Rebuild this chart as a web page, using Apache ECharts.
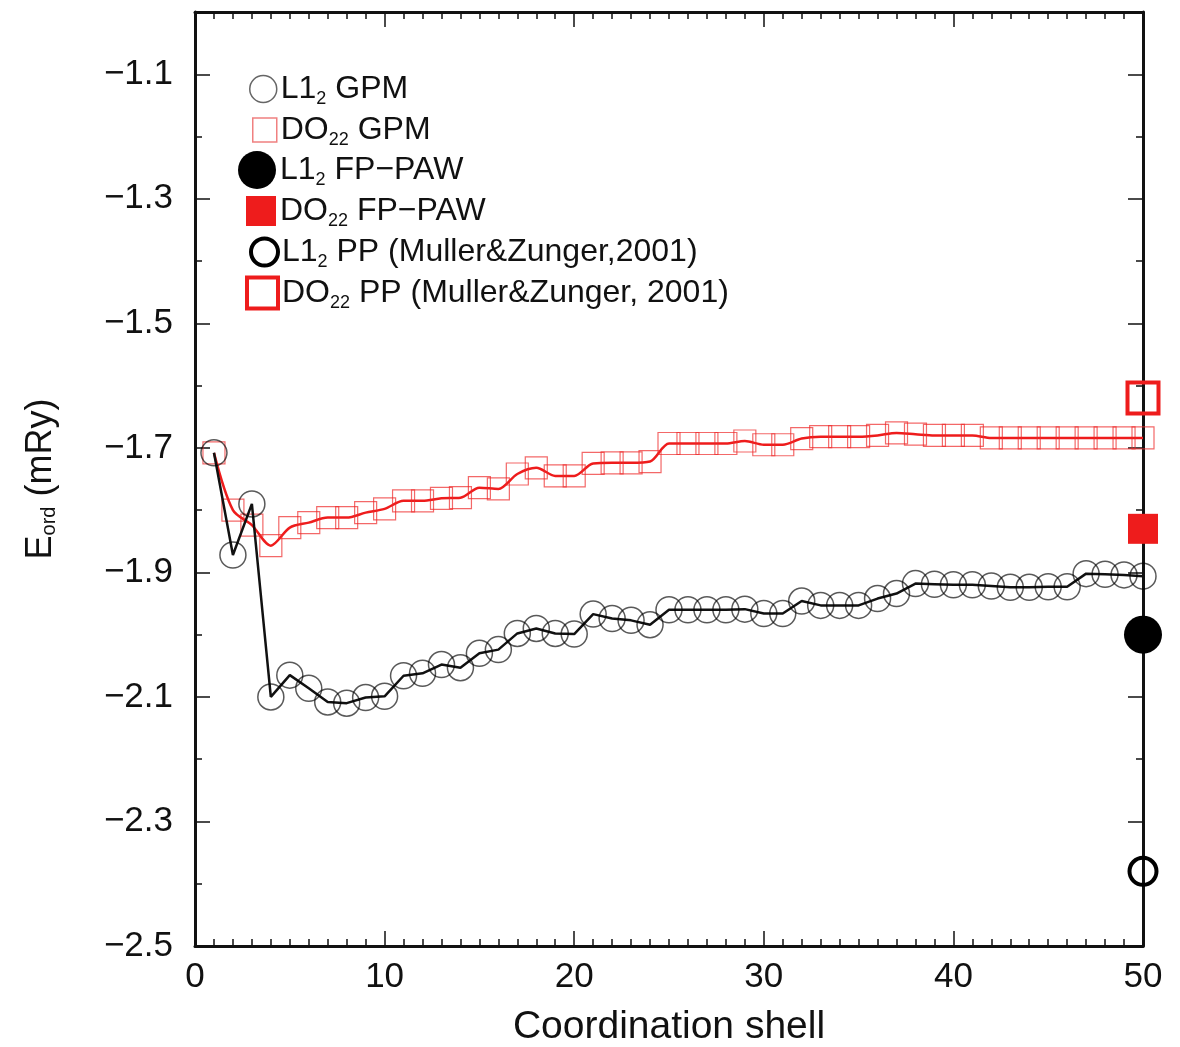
<!DOCTYPE html>
<html>
<head>
<meta charset="utf-8">
<title>Ordering energy vs coordination shell</title>
<script src="https://cdn.jsdelivr.net/npm/echarts@6/dist/echarts.min.js"></script>
<style>
  html, body { margin: 0; padding: 0; background: #fff; }
  #chart { width: 1180px; height: 1047px; }
</style>
</head>
<body>
<div id="chart"></div>
<script>
// Coordination shell index (x)
const shells = [1, 2, 3, 4, 5, 6, 7, 8, 9, 10,
  11, 12, 13, 14, 15, 16, 17, 18, 19, 20,
  21, 22, 23, 24, 25, 26, 27, 28, 29, 30,
  31, 32, 33, 34, 35, 36, 37, 38, 39, 40,
  41, 42, 43, 44, 45, 46, 47, 48, 49, 50];

// L1_2 ordering energy, GPM (mRy)
const l12Gpm = [
  -1.708, -1.872, -1.790, -2.100, -2.065, -2.086, -2.108, -2.110, -2.101, -2.099,
  -2.066, -2.062, -2.048, -2.053, -2.030, -2.024, -1.998, -1.990, -1.998, -1.999,
  -1.967, -1.974, -1.977, -1.984, -1.960, -1.960, -1.960, -1.960, -1.959, -1.966,
  -1.966, -1.946, -1.953, -1.953, -1.953, -1.942, -1.934, -1.918, -1.919, -1.920,
  -1.920, -1.922, -1.924, -1.924, -1.923, -1.923, -1.902, -1.903, -1.904, -1.906];

// DO_22 ordering energy, GPM (mRy)
const do22Gpm = [
  -1.708, -1.800, -1.824, -1.857, -1.828, -1.820, -1.812, -1.812, -1.804, -1.798,
  -1.785, -1.785, -1.781, -1.780, -1.764, -1.766, -1.742, -1.732, -1.745, -1.745,
  -1.725, -1.724, -1.724, -1.722, -1.693, -1.693, -1.693, -1.693, -1.689, -1.695,
  -1.695, -1.685, -1.682, -1.682, -1.682, -1.680, -1.676, -1.678, -1.680, -1.680,
  -1.680, -1.684, -1.684, -1.684, -1.684, -1.684, -1.684, -1.684, -1.684, -1.684];

// Reference values, plotted at the last shell
const refShell = 50;
const l12FpPaw = -2.00;
const do22FpPaw = -1.83;
const l12Pp = -2.38;
const do22Pp = -1.62;

// Axis ranges and ticks
const xMin = 0, xMax = 50, xStep = 10;
const yMin = -2.5, yMax = -1.0, yStep = 0.2, yMinorStep = 0.1;

// Series names ("_n" marks a subscript)
const names = [
  'L1_2 GPM',
  'DO_22 GPM',
  'L1_2 FP\u2212PAW',
  'DO_22 FP\u2212PAW',
  'L1_2 PP (Muller&Zunger,2001)',
  'DO_22 PP (Muller&Zunger, 2001)'
];

const FONT = '"Liberation Sans", Arial, Helvetica, sans-serif';
const INK = '#111111';
const RED = '#ee1c1c';

const subFmt = s => s.replace(/_(\d+)/g, '{s|$1}');

const zip = (xs, ys) => xs.map((x, i) => [x, ys[i]]);

function yAxisDef(pos, major) {
  return {
    type: 'value',
    position: pos,
    min: yMin,
    max: yMax,
    interval: major ? yStep : yMinorStep,
    name: (major && pos === 'left') ? 'E{s|ord} (mRy)' : '',
    nameLocation: 'middle',
    nameGap: 136,
    nameTextStyle: {
      fontFamily: FONT, fontSize: 36, color: INK,
      rich: { s: { fontFamily: FONT, fontSize: 20, color: INK, verticalAlign: 'bottom', lineHeight: 16 } }
    },
    axisLine: { show: major, onZero: false, lineStyle: { color: INK, width: 3 } },
    axisTick: { show: true, inside: true, length: major ? 15 : 7, lineStyle: { color: INK, width: 1.5 } },
    axisLabel: {
      show: major && pos === 'left',
      margin: 22,
      fontFamily: FONT, fontSize: 35, color: INK,
      formatter: v => (v > yMax - 0.05) ? '' : '\u2212' + Math.abs(v).toFixed(1)
    },
    splitLine: { show: false }
  };
}

function xAxisDef(pos) {
  const bottom = pos === 'bottom';
  return {
    type: 'value',
    position: pos,
    min: xMin,
    max: xMax,
    interval: xStep,
    name: bottom ? 'Coordination shell' : '',
    nameLocation: 'middle',
    nameGap: 62,
    nameTextStyle: { fontFamily: FONT, fontSize: 39, color: INK },
    axisLine: { show: true, onZero: false, lineStyle: { color: INK, width: 3 } },
    axisTick: { show: true, inside: true, length: 15, lineStyle: { color: INK, width: 1.5 } },
    minorTick: { show: true, splitNumber: 10, length: 7, lineStyle: { color: INK, width: 1.5 } },
    axisLabel: { show: bottom, margin: 14, fontFamily: FONT, fontSize: 35, color: INK },
    splitLine: { show: false },
    minorSplitLine: { show: false }
  };
}

// One legend block per row so each key keeps its own marker size
const legendRows = [
  { name: names[0], icon: 'circle', w: 27, h: 27, style: { color: 'rgba(0,0,0,0)', borderColor: '#666', borderWidth: 1.5 } },
  { name: names[1], icon: 'rect', w: 24, h: 24, style: { color: 'rgba(0,0,0,0)', borderColor: '#f08080', borderWidth: 1.5 } },
  { name: names[2], icon: 'circle', w: 38, h: 38, style: { color: '#000', borderWidth: 0 } },
  { name: names[3], icon: 'rect', w: 30, h: 30, style: { color: RED, borderWidth: 0 } },
  { name: names[4], icon: 'circle', w: 27, h: 27, style: { color: 'rgba(0,0,0,0)', borderColor: '#000', borderWidth: 4 } },
  { name: names[5], icon: 'rect', w: 31, h: 31, style: { color: 'rgba(0,0,0,0)', borderColor: RED, borderWidth: 4 } }
];
const rowCenters = [89, 130, 170, 211, 252, 293];
const textLeft = 280;
const rowLineHeight = 38;

const legends = legendRows.map((r, i) => ({
  data: [{ name: r.name, icon: r.icon, itemStyle: r.style }],
  left: textLeft - 4 - r.w,
  top: rowCenters[i] - rowLineHeight / 2,
  padding: 0,
  itemWidth: r.w,
  itemHeight: r.h,
  itemGap: 0,
  selectedMode: false,
  formatter: n => subFmt(n),
  textStyle: {
    fontFamily: FONT, fontSize: 32, color: INK, lineHeight: rowLineHeight, padding: [0, 0, 0, -1],
    rich: { s: { fontFamily: FONT, fontSize: 18, color: INK, verticalAlign: 'bottom', lineHeight: 12 } }
  }
}));

const chart = echarts.init(document.getElementById('chart'), null, { renderer: 'canvas' });

chart.setOption({
  backgroundColor: '#ffffff',
  animation: false,
  grid: { left: 195, right: 37, top: 12, bottom: 101, containLabel: false, outerBoundsMode: 'none' },
  legend: legends,
  xAxis: [xAxisDef('bottom'), xAxisDef('top')],
  yAxis: [yAxisDef('left', true), yAxisDef('left', false), yAxisDef('right', true), yAxisDef('right', false)],
  series: [
    {
      name: names[1],
      type: 'line',
      data: zip(shells, do22Gpm),
      smooth: 0.3,
      clip: false,
      symbol: 'rect',
      symbolSize: 22,
      lineStyle: { color: RED, width: 2.5 },
      itemStyle: { color: 'rgba(0,0,0,0)', borderColor: 'rgba(238,40,40,0.7)', borderWidth: 1.2 },
      z: 3
    },
    {
      name: names[0],
      type: 'line',
      data: zip(shells, l12Gpm),
      smooth: false,
      clip: false,
      symbol: 'circle',
      symbolSize: 26,
      lineStyle: { color: INK, width: 2.5 },
      itemStyle: { color: 'rgba(0,0,0,0)', borderColor: 'rgba(0,0,0,0.65)', borderWidth: 1.5 },
      z: 4
    },
    {
      name: names[2],
      type: 'scatter',
      data: [[refShell, l12FpPaw]],
      clip: false,
      symbol: 'circle',
      symbolSize: 38,
      itemStyle: { color: '#000', opacity: 1 },
      z: 5
    },
    {
      name: names[3],
      type: 'scatter',
      data: [[refShell, do22FpPaw]],
      clip: false,
      symbol: 'rect',
      symbolSize: 30,
      itemStyle: { color: RED, opacity: 1 },
      z: 5
    },
    {
      name: names[4],
      type: 'scatter',
      data: [[refShell, l12Pp]],
      clip: false,
      symbol: 'circle',
      symbolSize: 27,
      itemStyle: { color: 'rgba(0,0,0,0)', borderColor: '#000', borderWidth: 4, opacity: 1 },
      z: 5
    },
    {
      name: names[5],
      type: 'scatter',
      data: [[refShell, do22Pp]],
      clip: false,
      symbol: 'rect',
      symbolSize: 31,
      itemStyle: { color: 'rgba(0,0,0,0)', borderColor: RED, borderWidth: 4, opacity: 1 },
      z: 5
    }
  ]
});
</script>
</body>
</html>
